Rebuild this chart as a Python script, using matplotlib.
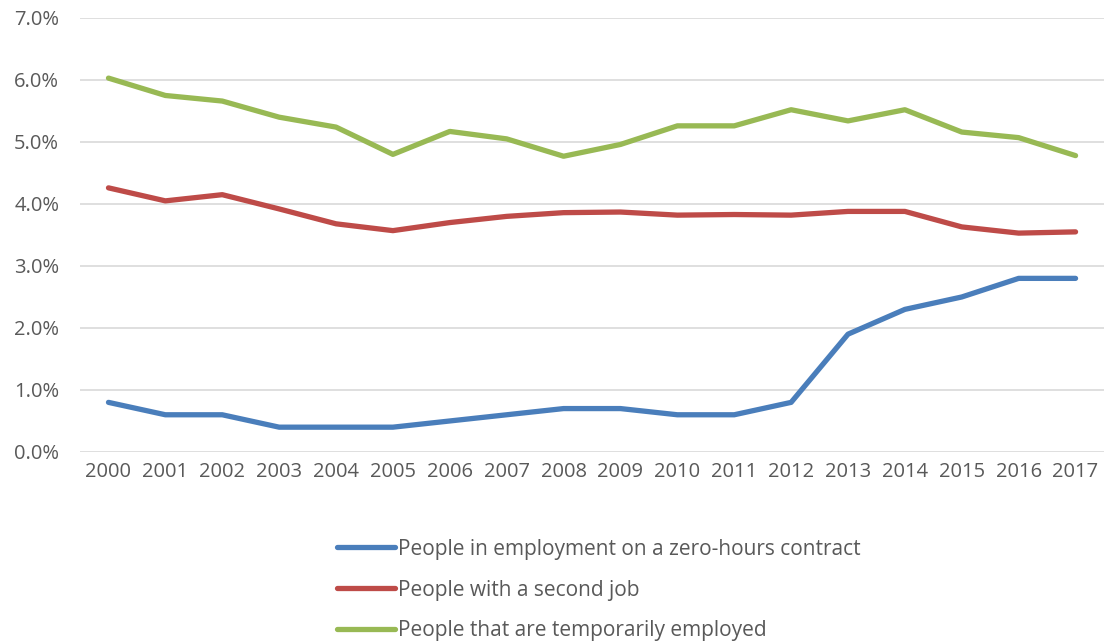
import matplotlib
matplotlib.use("Agg")
from matplotlib import pyplot as plt
from matplotlib.ticker import FuncFormatter

years = list(range(2000, 2018))

zero_hours = [0.8, 0.6, 0.6, 0.4, 0.4, 0.4, 0.5, 0.6, 0.7, 0.7, 0.6, 0.6, 0.8, 1.9, 2.3, 2.5, 2.8, 2.8]
second_job = [4.26, 4.05, 4.15, 3.92, 3.68, 3.57, 3.70, 3.80, 3.86, 3.87, 3.82, 3.83, 3.82, 3.88, 3.88, 3.63, 3.53, 3.55]
temporary = [6.03, 5.75, 5.66, 5.40, 5.24, 4.80, 5.17, 5.05, 4.77, 4.96, 5.26, 5.26, 5.52, 5.34, 5.52, 5.16, 5.07, 4.78]

labels = ["People in employment on a zero-hours contract",
          "People with a second job",
          "People that are temporarily employed"]
colors = ["#4a7ebb", "#be4b48", "#98b954"]

plt.rcParams['font.family'] = ['Open Sans', 'DejaVu Sans']
txt = "#595959"

fig = plt.figure(figsize=(11.04, 6.42), dpi=100)
ax = fig.add_axes([0.0725, 0.296, 0.9275, 0.676])

x = list(range(len(years)))
for vals, lab, c in zip([zero_hours, second_job, temporary], labels, colors):
    ax.plot(x, vals, color=c, lw=3.8, label=lab, solid_capstyle='round')

ax.set_xlim(-0.5, len(years) - 0.5)
ax.set_ylim(0, 7)
ax.set_yticks(range(0, 8))
ax.yaxis.set_major_formatter(FuncFormatter(lambda v, p: f"{v:.1f}%"))
ax.set_xticks(x)
ax.set_xticklabels([str(y) for y in years])
ax.grid(axis='y', color='#d9d9d9', lw=1.2)
ax.set_axisbelow(True)
for s in ax.spines.values():
    s.set_visible(False)
ax.tick_params(length=0, labelsize=14.5, colors=txt)
ax.tick_params(axis='y', pad=15)
ax.tick_params(axis='x', pad=7)

leg = fig.legend(loc='upper left', bbox_to_anchor=(0.288, 0.19), frameon=False,
                 fontsize=15, labelcolor=txt, handlelength=2.8, handletextpad=0.15,
                 labelspacing=0.95)

fig.savefig("out.png", dpi=100)
